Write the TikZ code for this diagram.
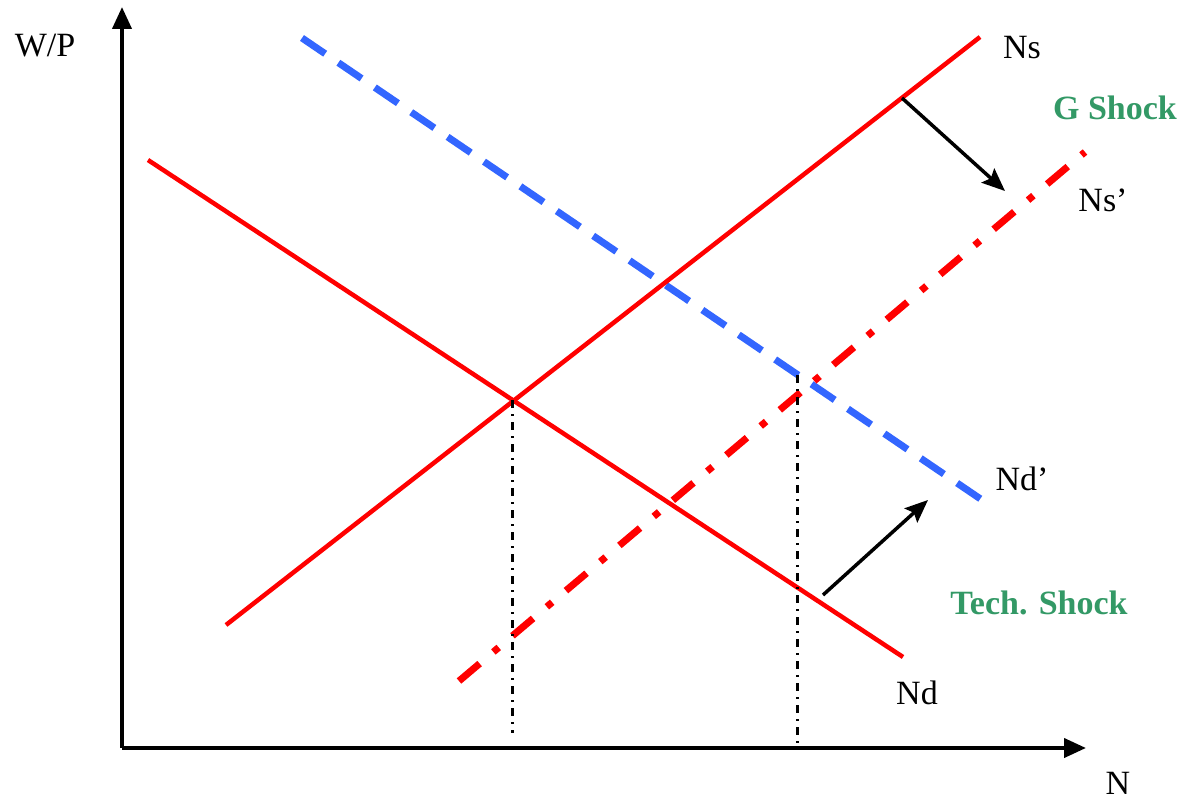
\documentclass[tikz,border=0pt]{standalone}
\usepackage{fontspec}
\setmainfont{Liberation Serif}
\usetikzlibrary{arrows.meta}
\definecolor{rd}{RGB}{255,0,0}
\definecolor{bl}{RGB}{51,102,255}
\definecolor{gr}{RGB}{51,153,102}
\tikzset{
  axis/.style={line width=4pt,-{Triangle[length=22pt,width=19pt]}},
  supply/.style={rd,line width=4.5pt},
  shifted/.style={rd,line width=7pt,dash pattern=on 27pt off 18pt on 7pt off 18pt},
  demandnew/.style={bl,line width=7pt,dash pattern=on 28pt off 16pt},
  guide/.style={black,line width=3pt,dash pattern=on 8pt off 6pt on 2pt off 6pt},
  shockarrow/.style={black,line width=3.5pt,-{Stealth[length=23pt,width=19pt,inset=4pt]}},
  lbl/.style={font=\fontsize{34}{38}\selectfont,inner sep=0pt},
  shock/.style={gr,font=\fontsize{34}{38}\selectfont\bfseries,inner sep=0pt}
}
\begin{document}
\begin{tikzpicture}[x=1pt,y=-1pt]
\useasboundingbox (0,0) rectangle (1184,800);
% axes
\coordinate (O) at (122,748);
\coordinate (Ytop) at (122,7);
\coordinate (Xend) at (1086,748);
\draw[axis] (O) -- (Ytop);
\draw[axis] (O) -- (Xend);
\node[lbl] (wp) at (45,46) {W/P};
\node[lbl] (nlab) at (1118,783) {N};
% curves
\coordinate (ns1) at (226,625);
\coordinate (ns2) at (980,37);
\coordinate (nd1) at (148,160);
\coordinate (nd2) at (903,657);
\coordinate (nsp1) at (459,681);
\coordinate (nsp2) at (1085,152);
\coordinate (ndp1) at (302,38);
\coordinate (ndp2) at (985,502);
\draw[demandnew] (ndp1) -- (ndp2);
\draw[supply] (ns1) -- (ns2);
\draw[supply] (nd1) -- (nd2);
\draw[shifted] (nsp1) -- (nsp2);
\node[lbl] (nsl) at (1022,48) {Ns};
\node[lbl] (ndl) at (917,693) {Nd};
\node[lbl] (nspl) at (1103,200) {Ns’};
\node[lbl] (ndpl) at (1022,479) {Nd’};
% guides
\coordinate (e1) at (512,400);
\coordinate (e1b) at (512,733);
\coordinate (e2) at (797,375);
\coordinate (e2b) at (797,746);
\draw[guide] (e1) -- (e1b);
\draw[guide] (e2) -- (e2b);
% shock arrows
\coordinate (g1) at (902,98);
\coordinate (g2) at (1005,191);
\coordinate (t1) at (823,595);
\coordinate (t2) at (928,500);
\draw[shockarrow] (g1) -- (g2);
\draw[shockarrow] (t1) -- (t2);
\node[shock] (gs) at (1115,108) {G Shock};
\node[shock] (ts) at (1039,603) {Tech. Shock};
\end{tikzpicture}
\end{document}
